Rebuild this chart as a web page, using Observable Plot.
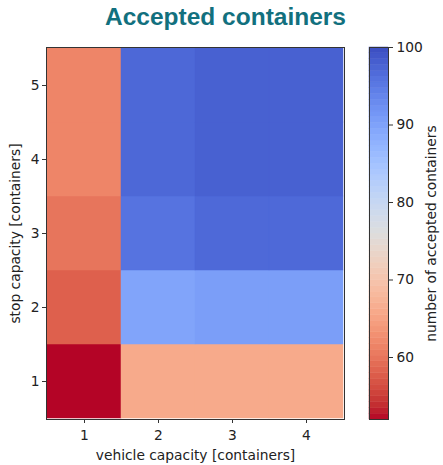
<!DOCTYPE html>
<html>
<head>
<meta charset="utf-8">
<script src="https://cdn.jsdelivr.net/npm/d3@7"></script>
<script src="https://cdn.jsdelivr.net/npm/@observablehq/plot@0.6"></script>
<style>
  html, body { margin: 0; padding: 0; background: #fff; }
  #wrap { position: relative; width: 443px; height: 465px; overflow: hidden; }
  #title { position: absolute; left: 4px; top: 0; width: 443px; text-align: center;
           font-family: "Liberation Sans", Arial, sans-serif; font-weight: bold; font-size: 24.5px;
           color: #12707e; line-height: 34px; }
  #main { position: absolute; left: 0; top: 40px; }
  #cbar { position: absolute; left: 355px; top: 40px; }
</style>
</head>
<body>
<div id="wrap">
  <div id="title">Accepted containers</div>
  <div id="main"></div>
  <div id="cbar"></div>
</div>
<script>
// ---- data ----
const vehicleCapacity = [1, 2, 3, 4];
const stopCapacity = [1, 2, 3, 4, 5];
// accepted containers, one row per stop capacity (1..5), columns = vehicle capacity (1..4)
const acceptedStop1 = [52, 66, 66, 66];
const acceptedStop2 = [58, 89.7, 90.5, 90.5];
const acceptedStop3 = [60, 95.7, 96.9, 96.9];
const acceptedStop4 = [61.6, 97, 97.8, 97.8];
const acceptedStop5 = [61.6, 97, 97.8, 97.8];
const colorTicks = [60, 70, 80, 90, 100];
const colorDomain = [52, 100];

const rows = [acceptedStop1, acceptedStop2, acceptedStop3, acceptedStop4, acceptedStop5];
const cells = [];
stopCapacity.forEach((s, i) => vehicleCapacity.forEach((v, j) => cells.push({v, s, value: rows[i][j]})));

// coolwarm (Moreland) stops, reversed so low = red, high = blue
const coolwarm = [
 [59,76,192],[68,90,204],[77,104,215],[87,117,225],[98,130,234],[108,142,241],[119,154,247],[130,165,251],
 [141,176,254],[152,185,255],[163,194,255],[174,201,253],[184,208,249],[194,213,244],[204,217,238],[213,219,230],
 [221,221,221],[229,216,209],[236,211,197],[241,204,185],[245,196,173],[247,187,160],[247,177,148],[247,166,135],
 [244,154,123],[241,141,111],[236,127,99],[229,112,88],[222,96,77],[213,80,66],[203,62,56],[192,40,47],[180,4,38]
].map(c => `rgb(${c[0]},${c[1]},${c[2]})`);
const interp = d3.piecewise(d3.interpolateRgb, coolwarm.slice().reverse());
const colorScale = {type: "linear", domain: colorDomain, interpolate: interp};

const style = {fontFamily: "DejaVu Sans, sans-serif", fontSize: "13.8px", color: "#222", background: "white"};

const main = Plot.plot({
  width: 355, height: 425,
  marginTop: 7, marginBottom: 46, marginLeft: 46, marginRight: 11,
  style,
  x: {type: "band", domain: vehicleCapacity, padding: 0},
  y: {type: "band", domain: stopCapacity.slice().reverse(), padding: 0},
  color: colorScale,
  marks: [
    Plot.cell(cells, {x: "v", y: "s", fill: "value", inset: 0, stroke: "value", strokeWidth: 0.5}),
    Plot.frame({stroke: "#333", strokeWidth: 1}),
    Plot.axisX({tickSize: 4, tickPadding: 7, label: "vehicle capacity [containers]", labelAnchor: "center", labelArrow: "none", labelOffset: 40, stroke: "#333"}),
    Plot.axisY({tickSize: 4, tickPadding: 3, label: "stop capacity [containers]", labelAnchor: "center", labelArrow: "none", labelOffset: 36, stroke: "#333"})
  ]
});
document.getElementById("main").appendChild(main);

const steps = d3.range(64).map(i => {
  const a = colorDomain[0] + (colorDomain[1] - colorDomain[0]) * i / 64;
  const b = colorDomain[0] + (colorDomain[1] - colorDomain[0]) * (i + 1) / 64;
  return {a, b, m: (a + b) / 2};
});

const cbar = Plot.plot({
  width: 88, height: 425,
  marginTop: 7, marginBottom: 46, marginLeft: 14, marginRight: 55,
  style,
  x: {domain: [0, 1], axis: null},
  y: {domain: colorDomain},
  color: colorScale,
  marks: [
    Plot.rect(steps, {x1: 0, x2: 1, y1: "a", y2: "b", fill: "m", stroke: "m", strokeWidth: 0.5}),
    Plot.frame({stroke: "#333", strokeWidth: 1}),
    Plot.axisY({anchor: "right", ticks: colorTicks, tickSize: 4, tickPadding: 4, label: "number of accepted containers", labelAnchor: "center", labelArrow: "none", labelOffset: 47, stroke: "#333"})
  ]
});
document.getElementById("cbar").appendChild(cbar);
</script>
</body>
</html>
